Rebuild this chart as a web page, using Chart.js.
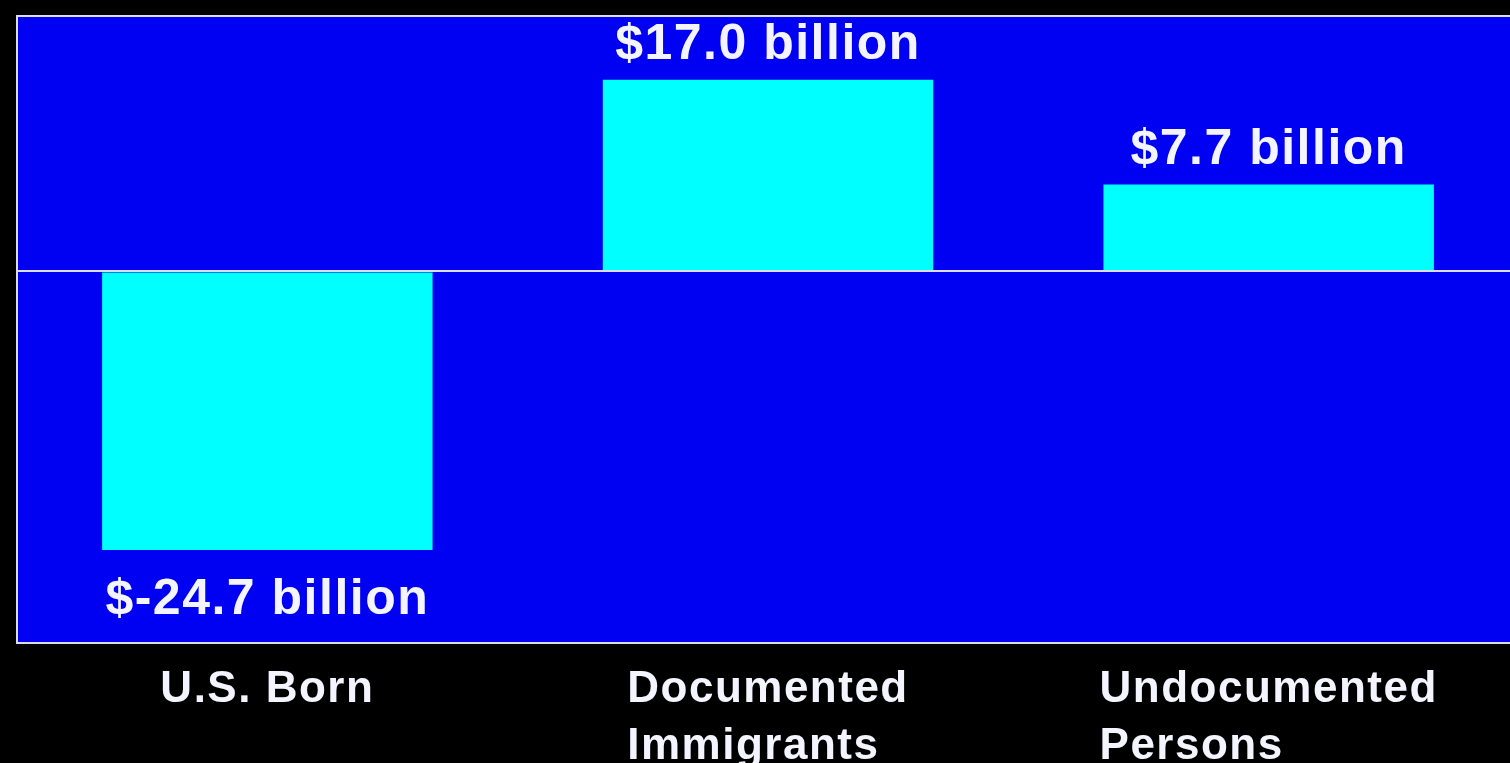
<!DOCTYPE html>
<html>
<head>
<meta charset="utf-8">
<title>Net fiscal balance</title>
<script src="https://cdn.jsdelivr.net/npm/chart.js@4/dist/chart.umd.min.js"></script>
<style>
  html, body { margin: 0; padding: 0; background: #000; overflow: hidden; }
  canvas { display: block; }
</style>
</head>
<body>
<canvas id="balanceChart" width="1520" height="763"></canvas>
<script>
// categories (multi-line labels are arrays) and balances in billions of dollars
const groups = ['U.S. Born', ['Documented', 'Immigrants'], ['Undocumented', 'Persons']];
const balances = [-24.7, 17.0, 7.7];
const yMin = -32.95;
const yMax = 22.65;

const FONT = '"Liberation Sans", Arial, sans-serif';
const SPACING = '1.5px';
const PLOT_BLUE = '#0000f2';
const BAR_CYAN = '#00ffff';
const FRAME = '#dcdcee';
const TEXT = '#f4f4ff';

const plotBackground = {
    id: 'plotBackground',
    beforeDraw(chart) {
        const { ctx, chartArea: a } = chart;
        ctx.save();
        ctx.fillStyle = PLOT_BLUE;
        ctx.fillRect(a.left, a.top, a.right - a.left, a.bottom - a.top);
        ctx.restore();
    },
    afterDraw(chart) {
        const { ctx, chartArea: a } = chart;
        ctx.save();
        ctx.strokeStyle = FRAME;
        ctx.lineWidth = 2;
        ctx.strokeRect(a.left, a.top, a.right - a.left, a.bottom - a.top);
        ctx.restore();
    }
};

// category names under the plot, lines of one label share a left edge
const groupLabels = {
    id: 'groupLabels',
    afterDraw(chart) {
        const { ctx } = chart;
        const x = chart.scales.x;
        ctx.save();
        ctx.letterSpacing = SPACING;
        ctx.font = 'bold 44px ' + FONT;
        ctx.fillStyle = TEXT;
        ctx.textAlign = 'left';
        ctx.textBaseline = 'alphabetic';
        groups.forEach((g, i) => {
            const lines = Array.isArray(g) ? g : [g];
            const w = Math.max(...lines.map(l => ctx.measureText(l).width));
            const left = x.getPixelForTick(i) - w / 2;
            lines.forEach((l, j) => ctx.fillText(l, left, x.top + 59 + j * 57));
        });
        ctx.restore();
    }
};

// "$x billion" above positive bars and below negative ones
const valueLabels = {
    id: 'valueLabels',
    afterDatasetsDraw(chart) {
        const { ctx } = chart;
        const meta = chart.getDatasetMeta(0);
        ctx.save();
        ctx.letterSpacing = SPACING;
        ctx.font = 'bold 50px ' + FONT;
        ctx.fillStyle = TEXT;
        ctx.textAlign = 'center';
        ctx.textBaseline = 'alphabetic';
        meta.data.forEach((bar, i) => {
            const v = balances[i];
            const text = '$' + v.toFixed(1) + ' billion';
            const y = v >= 0 ? bar.y - 21 : bar.y + 64;
            ctx.fillText(text, bar.x, y);
        });
        ctx.restore();
    }
};

new Chart(document.getElementById('balanceChart'), {
    type: 'bar',
    data: {
        labels: groups,
        datasets: [{
            data: balances,
            backgroundColor: BAR_CYAN,
            borderWidth: 0,
            barPercentage: 0.66,
            categoryPercentage: 1.0
        }]
    },
    options: {
        responsive: false,
        animation: false,
        layout: { padding: { left: 17, top: 16, right: 1, bottom: 0 } },
        plugins: {
            legend: { display: false },
            tooltip: { enabled: false }
        },
        scales: {
            x: {
                grid: { display: false, drawTicks: false },
                border: { display: false },
                ticks: { display: false },
                afterFit: s => {
                    s.height = 120;
                    s.paddingLeft = 0;
                    s.paddingRight = 0;
                }
            },
            y: {
                min: yMin,
                max: yMax,
                grid: {
                    z: 1,
                    drawTicks: false,
                    lineWidth: 2,
                    color: c => (c.tick && c.tick.value === 0 ? FRAME : 'transparent')
                },
                border: { display: false },
                ticks: { display: false, stepSize: 10 },
                afterFit: s => { s.width = 0; }
            }
        }
    },
    plugins: [plotBackground, valueLabels, groupLabels]
});
</script>
</body>
</html>
